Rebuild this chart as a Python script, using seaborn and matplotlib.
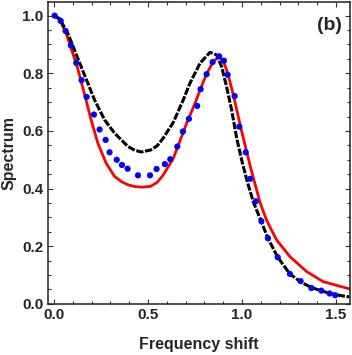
# Load packages
import pandas as pd
from matplotlib import pyplot as plt
from matplotlib.ticker import MultipleLocator
import seaborn as sns

sns.set(style="ticks", context="paper")
plt.rcParams['font.family'] = ['Liberation Sans', 'DejaVu Sans']
plt.rcParams['font.weight'] = "bold"

# Solid red curve
red_x = [0.0, 0.03, 0.065, 0.124, 0.172, 0.198, 0.234, 0.278, 0.323, 0.360, 0.394, 0.430,
         0.470, 0.515, 0.550, 0.581, 0.635, 0.670, 0.706, 0.750, 0.777, 0.812, 0.847, 0.874,
         0.900, 0.927, 0.954, 0.998, 1.047, 1.096, 1.131, 1.184, 1.255, 1.344, 1.432, 1.572]
red_y = [1.000, 0.987, 0.939, 0.823, 0.705, 0.638, 0.557, 0.488, 0.442, 0.424, 0.413, 0.407,
         0.405, 0.408, 0.422, 0.447, 0.505, 0.565, 0.627, 0.695, 0.742, 0.798, 0.840, 0.857,
         0.846, 0.794, 0.725, 0.600, 0.470, 0.352, 0.290, 0.222, 0.164, 0.112, 0.077, 0.052]

# Black dash-dot curve
black_x = [0.0, 0.03, 0.074, 0.145, 0.216, 0.270, 0.323, 0.394, 0.430, 0.465, 0.515, 0.550,
           0.581, 0.635, 0.688, 0.723, 0.777, 0.830, 0.865, 0.892, 0.918, 0.945, 0.972, 1.000,
           1.030, 1.060, 1.103, 1.138, 1.190, 1.255, 1.312, 1.369, 1.432, 1.496, 1.572]
black_y = [1.000, 0.990, 0.939, 0.823, 0.708, 0.638, 0.592, 0.546, 0.533, 0.527, 0.534, 0.549,
           0.575, 0.630, 0.708, 0.765, 0.835, 0.873, 0.864, 0.823, 0.754, 0.673, 0.575, 0.495,
           0.420, 0.355, 0.285, 0.228, 0.162, 0.104, 0.076, 0.057, 0.043, 0.032, 0.024]

# Blue dots
dots_x = [0.004, 0.036, 0.062, 0.090, 0.119, 0.147, 0.174, 0.213, 0.243, 0.275, 0.296, 0.334,
          0.362, 0.392, 0.447, 0.511, 0.546, 0.590, 0.619, 0.656, 0.686, 0.718, 0.762, 0.780,
          0.812, 0.844, 0.879, 0.904, 0.924, 0.961, 0.986, 1.020, 1.044, 1.074, 1.103, 1.138,
          1.190, 1.255, 1.312, 1.369, 1.422, 1.466, 1.496]
dots_y = [1.000, 0.982, 0.947, 0.897, 0.836, 0.776, 0.718, 0.657, 0.605, 0.569, 0.526, 0.500,
          0.482, 0.469, 0.446, 0.446, 0.468, 0.485, 0.502, 0.546, 0.598, 0.642, 0.687, 0.745,
          0.797, 0.839, 0.859, 0.844, 0.795, 0.721, 0.615, 0.526, 0.434, 0.356, 0.287, 0.228,
          0.162, 0.104, 0.079, 0.055, 0.046, 0.036, 0.030]

red = pd.DataFrame({"x": red_x, "y": red_y})
black = pd.DataFrame({"x": black_x, "y": black_y})
dots = pd.DataFrame({"x": dots_x, "y": dots_y})

# Create figure and axes
fig, ax = plt.subplots(figsize=(3.52, 3.55), dpi=100)
fig.subplots_adjust(left=0.136, right=0.993, bottom=0.144, top=0.994)

sns.lineplot(data=red, x="x", y="y", sort=False, color="#ff0000", linewidth=2.0, ax=ax)
sns.lineplot(data=black, x="x", y="y", sort=False, color="black", linewidth=2.2, ax=ax)
ax.lines[-1].set_dashes((2.4, 0.55))
ax.lines[-1].set_solid_capstyle("butt")
sns.scatterplot(data=dots, x="x", y="y", color="#0000ff", s=20, edgecolor="none", ax=ax,
                zorder=5)

# Axis limits and ticks
ax.set_xlim(-0.032, 1.572)
ax.set_ylim(0, 1.047)
ax.set_xticks([0.0, 0.5, 1.0, 1.5])
ax.set_yticks([0.0, 0.2, 0.4, 0.6, 0.8, 1.0])
ax.xaxis.set_minor_locator(MultipleLocator(0.1))
ax.yaxis.set_minor_locator(MultipleLocator(0.05))
ax.tick_params(which="both", direction="in", top=True, right=True, color="#333333",
               width=0.8, labelsize=11, pad=3)
ax.tick_params(which="major", length=3.5)
ax.tick_params(which="minor", length=2)
for lbl in ax.get_xticklabels() + ax.get_yticklabels():
    lbl.set_fontweight("bold")
for side in ax.spines.values():
    side.set_linewidth(1.1)
    side.set_color("#222222")

ax.set_xlabel("Frequency shift", fontsize=11.5, fontweight="bold", labelpad=11)
ax.set_ylabel("Spectrum", fontsize=11.5, fontweight="bold", labelpad=4)

# Panel tag
ax.text(0.975, 0.924, "(b)", transform=ax.transAxes, ha="right", va="center",
        fontsize=14, fontweight="bold")

fig.savefig("out.png", dpi=100)
